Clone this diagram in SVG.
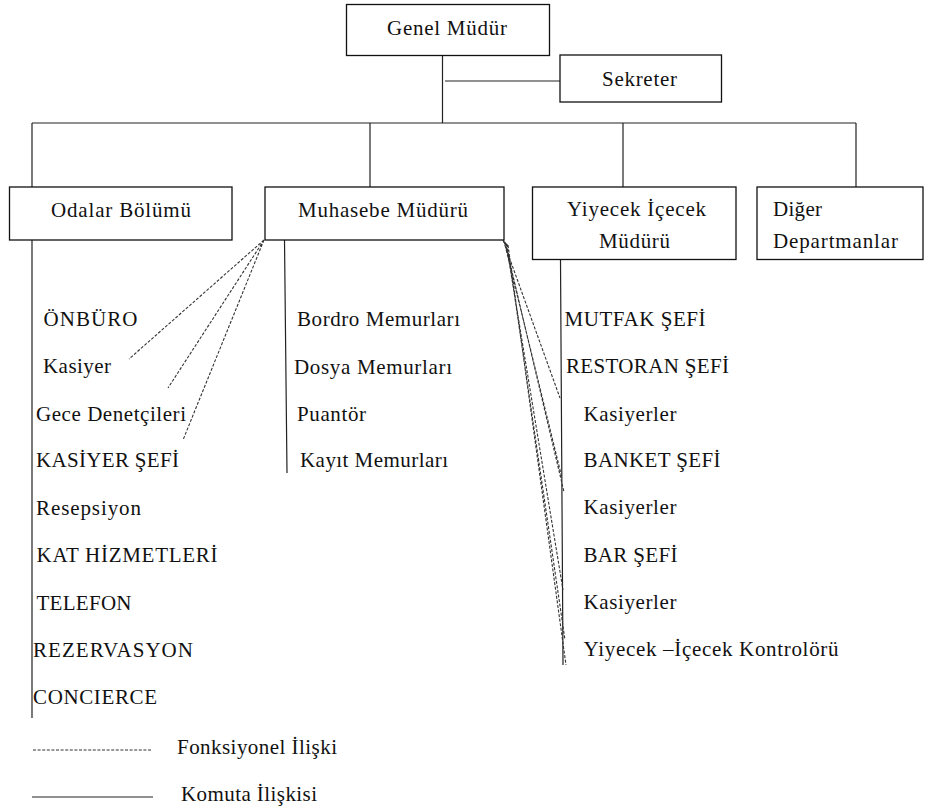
<svg xmlns="http://www.w3.org/2000/svg" width="925" height="810" viewBox="0 0 925 810">
  <style>
    .box { fill: #fff; stroke: #111; stroke-width: 1.3; }
    .solid { stroke: #222; stroke-width: 1.2; fill: none; }
    .dash { stroke: #333; stroke-width: 1.1; fill: none; stroke-dasharray: 3 1.6; }
    .t { font-family: "Liberation Serif", serif; font-size: 21px; fill: #111; }
  </style>
  <rect width="925" height="810" fill="#fff"/>

  <!-- command (solid) and functional (dashed) connectors -->
  <g id="connectors">
    <path class="solid" d="M442.5 56V123 M445 81H560 M32 123H856 M32 123V187 M370 123V187 M623 123V187 M856 123V187"/>
    <path class="solid" d="M32 240V718 M284.5 240L287 473 M560.5 259.5L563 665"/>
    <path class="dash" d="M264 240L129 359 M264 240L168 388 M264 240L183 440"/>
    <path class="dash" d="M503 240L560 398 M504 241L562 478 M505 242L564 492 M506 243L563 590 M507 244L565 640 M508 245L566 665"/>
  </g>

  <g id="genel-mudur">
    <rect class="box" x="346.5" y="4.5" width="203" height="51"/>
    <text class="t" x="387" y="35" textLength="120">Genel Müdür</text>
  </g>
  <g id="sekreter">
    <rect class="box" x="560" y="55" width="161.5" height="47"/>
    <text class="t" x="602" y="86" textLength="75">Sekreter</text>
  </g>
  <g id="odalar-bolumu">
    <rect class="box" x="9.5" y="187" width="222.5" height="53"/>
    <text class="t" x="51" y="217" textLength="140">Odalar Bölümü</text>
  </g>
  <g id="muhasebe-muduru">
    <rect class="box" x="265" y="187" width="239" height="53"/>
    <text class="t" x="298" y="217" textLength="170">Muhasebe Müdürü</text>
  </g>
  <g id="yiyecek-icecek-muduru">
    <rect class="box" x="532.5" y="187" width="203.5" height="72.5"/>
    <text class="t" x="567" y="216" textLength="139">Yiyecek İçecek</text>
    <text class="t" x="599" y="248" textLength="71">Müdürü</text>
  </g>
  <g id="diger-departmanlar">
    <rect class="box" x="757" y="187" width="166" height="72.5"/>
    <text class="t" x="773" y="216" textLength="49">Diğer</text>
    <text class="t" x="773" y="248" textLength="125">Departmanlar</text>
  </g>

  <!-- rooms division staff -->
  <g id="odalar-list">
    <text class="t" x="43.5" y="326" textLength="94">ÖNBÜRO</text>
    <text class="t" x="43" y="373" textLength="68">Kasiyer</text>
    <text class="t" x="36" y="421" textLength="150">Gece Denetçileri</text>
    <text class="t" x="36" y="467" textLength="143">KASİYER ŞEFİ</text>
    <text class="t" x="36" y="515" textLength="105">Resepsiyon</text>
    <text class="t" x="36.5" y="562" textLength="181">KAT HİZMETLERİ</text>
    <text class="t" x="36.5" y="610" textLength="95">TELEFON</text>
    <text class="t" x="33" y="657" textLength="160">REZERVASYON</text>
    <text class="t" x="33" y="704" textLength="124">CONCIERCE</text>
  </g>

  <!-- accounting staff -->
  <g id="muhasebe-list">
    <text class="t" x="297" y="326" textLength="163">Bordro Memurları</text>
    <text class="t" x="294" y="374" textLength="158">Dosya Memurları</text>
    <text class="t" x="297" y="421" textLength="69">Puantör</text>
    <text class="t" x="300" y="467" textLength="148">Kayıt Memurları</text>
  </g>

  <!-- food and beverage staff -->
  <g id="yiyecek-list">
    <text class="t" x="564.5" y="326" textLength="141">MUTFAK ŞEFİ</text>
    <text class="t" x="566" y="373" textLength="163">RESTORAN ŞEFİ</text>
    <text class="t" x="583.5" y="421" textLength="93">Kasiyerler</text>
    <text class="t" x="583.5" y="467" textLength="137">BANKET ŞEFİ</text>
    <text class="t" x="583.5" y="514" textLength="93">Kasiyerler</text>
    <text class="t" x="583.5" y="562" textLength="94">BAR ŞEFİ</text>
    <text class="t" x="583.5" y="609" textLength="93">Kasiyerler</text>
    <text class="t" x="583.5" y="656" textLength="255">Yiyecek –İçecek Kontrolörü</text>
  </g>

  <!-- legend -->
  <g id="legend">
    <line class="dash" x1="33" y1="750" x2="152" y2="750"/>
    <text class="t" x="177" y="754" textLength="160">Fonksiyonel İlişki</text>
    <line class="solid" x1="32" y1="797" x2="153" y2="797"/>
    <text class="t" x="181" y="801" textLength="136">Komuta İlişkisi</text>
  </g>
</svg>
